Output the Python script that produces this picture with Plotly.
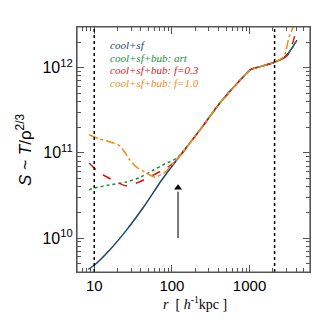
import plotly.graph_objects as go
import numpy as np

# entropy profiles S ~ T / rho^(2/3) vs radius r [h^-1 kpc]
r_cool = [8.4, 10, 15.7, 26, 43, 74, 116, 231, 420, 764, 1030, 1390, 2050, 2770, 3410, 4080]
S_cool = [4.3e9, 4.8e9, 7.2e9, 1.24e10, 2.3e10, 4.8e10, 8.3e10, 1.87e11, 3.9e11, 7.2e11,
          9.5e11, 1.03e12, 1.15e12, 1.31e12, 1.63e12, 2.1e12]

r_art = [8.6, 10, 15.7, 26, 38, 58, 81, 116, 231, 420, 764, 1030, 1390, 2050, 2770, 3410, 4000]
S_art = [3.67e10, 3.87e10, 4.2e10, 4.56e10, 5.1e10, 6.3e10, 7.4e10, 8.7e10, 1.87e11, 3.9e11,
         7.2e11, 9.5e11, 1.03e12, 1.15e12, 1.3e12, 1.6e12, 2.05e12]

r_f03 = [8.6, 10.6, 13.1, 21, 26, 38, 58, 86, 109, 231, 420, 764, 1030, 1390, 2050, 2700, 3120, 3610, 3950]
S_f03 = [7.6e10, 6.3e10, 5.5e10, 4.4e10, 4.1e10, 4.56e10, 5.5e10, 6.7e10, 7.8e10, 1.87e11,
         3.9e11, 7.2e11, 9.5e11, 1.03e12, 1.15e12, 1.28e12, 1.42e12, 1.97e12, 2.65e12]

r_f10 = [8.6, 11.6, 15.7, 20.5, 24.5, 28.5, 35, 47, 60, 79, 106, 231, 420, 764, 1030, 1390, 2050,
         2770, 3210, 3610, 3900]
S_f10 = [1.63e11, 1.46e11, 1.35e11, 1.24e11, 1.03e11, 8.3e10, 6.8e10, 5.8e10, 5.2e10, 5.8e10,
         7.6e10, 1.87e11, 3.9e11, 7.2e11, 9.5e11, 1.03e12, 1.15e12, 1.35e12, 2.25e12, 2.95e12, 3.6e12]

labels = ['cool+sf', 'cool+sf+bub: art', 'cool+sf+bub: f=0.3', 'cool+sf+bub: f=1.0']
colors = ['#1b4578', '#17943a', '#d41c1c', '#f08c14']

r_marks = [10, 2100]          # vertical dotted lines
arrow_r = 120
arrow_S = [1.0e10, 3.9e10]

fig = go.Figure()

series = [(r_cool, S_cool, 'solid'), (r_art, S_art, 'dot'),
          (r_f03, S_f03, 'dash'), (r_f10, S_f10, 'dashdot')]
for (x, y, dash), col in zip(series, colors):
    fig.add_trace(go.Scatter(x=x, y=y, mode='lines',
                             line=dict(color=col, width=1.5, dash=dash, shape='spline', smoothing=0.6),
                             showlegend=False, hoverinfo='none'))

for rm in r_marks:
    fig.add_shape(type='line', x0=rm, x1=rm, y0=0, y1=1, xref='x', yref='paper',
                  line=dict(color='black', width=1.5, dash='dot'))

# frame
fig.add_shape(type='rect', x0=0, x1=1, y0=0, y1=1, xref='paper', yref='paper',
              line=dict(color='#555555', width=1.2), layer='above')

# arrow
fig.add_trace(go.Scatter(x=[arrow_r, arrow_r], y=[arrow_S[0], arrow_S[1] * 0.9], mode='lines',
                         line=dict(color='#777777', width=2), showlegend=False, hoverinfo='none'))
fig.add_trace(go.Scatter(x=[arrow_r], y=[arrow_S[1]], mode='markers',
                         marker=dict(symbol='triangle-up', size=7, color='black'),
                         showlegend=False, hoverinfo='none'))

for i, (lab, col) in enumerate(zip(labels, colors)):
    fig.add_annotation(x=0.133, y=0.927 - i * 0.052, xref='paper', yref='paper',
                       text='<i>' + lab + '</i>', showarrow=False, xanchor='left', yanchor='middle',
                       font=dict(family='Liberation Serif', size=11, color=col))

fig.add_annotation(x=-0.23, y=0.5, xref='paper', yref='paper', textangle=-90,
                   xanchor='center', yanchor='middle',
                   text='<i>S</i> ~ <i>T</i>/ρ<sup>2/3</sup>', showarrow=False,
                   font=dict(family='Liberation Sans', size=17, color='black'))
fig.add_annotation(x=0.506, y=-0.128, xref='paper', yref='paper',
                   xanchor='center', yanchor='middle',
                   text='<i>r</i>  [ <i>h</i><sup>-1</sup>kpc ]', showarrow=False,
                   font=dict(family='Liberation Serif', size=14, color='black'))

axis_style = dict(showgrid=False, zeroline=False, showline=True, mirror='allticks',
                  linecolor='#555555', linewidth=1.2, ticks='inside', ticklen=7,
                  tickcolor='#555555', tickfont=dict(family='Liberation Sans', size=15, color='black'))

xminor = [m * 10 ** e for e in range(0, 4) for m in range(2, 10) if 6 <= m * 10 ** e <= 6000]
yminor = [m * 10 ** e for e in range(9, 13) for m in range(2, 10) if 4e9 <= m * 10 ** e <= 3e12]

fig.update_xaxes(type='log', range=[np.log10(6), np.log10(6000)],
                 tickvals=[10, 100, 1000], ticktext=['10', '100', '1000'],
                 minor=dict(tickvals=xminor, ticks='inside', ticklen=4, tickcolor='#555555'),
                 **axis_style)
fig.update_yaxes(type='log', range=[np.log10(4e9), np.log10(3e12)],
                 tickvals=[1e10, 1e11, 1e12],
                 ticktext=['10<sup>10</sup>', '10<sup>11</sup>', '10<sup>12</sup>'],
                 tickfont=dict(family='Liberation Sans', size=16, color='black'),
                 minor=dict(tickvals=yminor, ticks='inside', ticklen=4, tickcolor='#555555'),
                 **{k: v for k, v in axis_style.items() if k != 'tickfont'})

fig.update_layout(width=327, height=327, margin=dict(l=77, r=17, t=27, b=55),
                  plot_bgcolor='white', paper_bgcolor='white', showlegend=False)

fig.write_html('out.html', config={'displayModeBar': False},
               post_script="document.body.style.margin='0';")
